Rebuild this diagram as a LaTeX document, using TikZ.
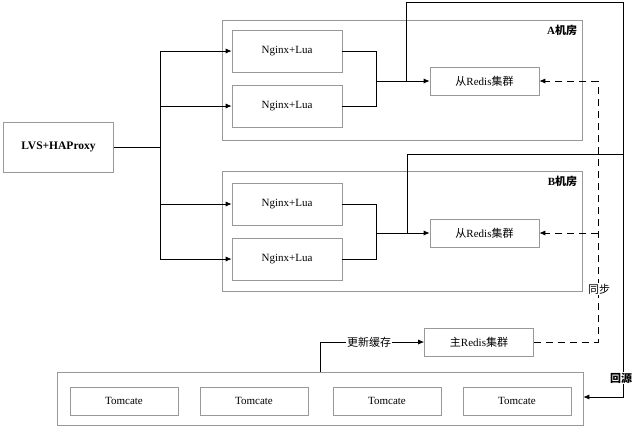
\documentclass[tikz,border=0pt]{standalone}
\usepackage{fontspec}
\setmainfont{Liberation Serif}
\newfontfamily\cjk{Noto Sans CJK SC}
\usetikzlibrary{arrows.meta}
\begin{document}
\begin{tikzpicture}[x=1pt,y=-1pt,font=\fontsize{11}{12}\selectfont,
  bx/.style={draw=gray!80,line width=0.6pt,minimum height=#1,inner sep=0pt},
  nb/.style={bx=42,minimum width=110},
  rb/.style={bx=28,minimum width=109},
  tb/.style={bx=28,minimum width=108},
  ln/.style={line width=0.8pt},
  ar/.style={ln,-{Latex[length=6pt,width=5pt]}},
  da/.style={ln,dashed,dash pattern=on 7pt off 5pt}]
\useasboundingbox (0,0) rectangle (640,432);
\node[bx=120,minimum width=360] (ca) at (402,80) {};
\node[bx=120,minimum width=360] (cb) at (402,231) {};
\node[bx=53,minimum width=526] (ct) at (320,398.5) {};
\node[anchor=north east,inner sep=5pt,font=\bfseries\fontsize{11}{12}\selectfont] (la) at (ca.north east) {A\cjk 机房};
\node[anchor=north east,inner sep=5pt,font=\bfseries\fontsize{11}{12}\selectfont] (lb) at (cb.north east) {B\cjk 机房};
\node[bx=50,minimum width=110,font=\bfseries\fontsize{11.5}{12}\selectfont] (lvs) at (58.5,147) {LVS+HAProxy};
\node[nb] (a1) at (287,51) {Nginx+Lua};
\node[nb] (a2) at (287,106) {Nginx+Lua};
\node[nb] (b1) at (287,204) {Nginx+Lua};
\node[nb] (b2) at (287,259) {Nginx+Lua};
\node[rb] (sa) at (484.5,81) {{\cjk 从}Redis{\cjk 集群}};
\node[rb] (sb) at (484.5,233) {{\cjk 从}Redis{\cjk 集群}};
\node[rb] (mr) at (479,342) {{\cjk 主}Redis{\cjk 集群}};
\node[tb] (t1) at (124,401) {Tomcate};
\node[tb] (t2) at (254,401) {Tomcate};
\node[tb] (t3) at (387,401) {Tomcate};
\node[tb] (t4) at (517,401) {Tomcate};
\coordinate (j) at (160,147);
\draw[ln] (lvs.east) -- (j);
\foreach \n in {a1,a2,b1,b2} \draw[ar] (j) |- (\n.west);
\coordinate (ja) at (376,81);
\coordinate (jb) at (376,233);
\draw[ln] (a1.east) -| (ja); \draw[ln] (a2.east) -| (ja);
\draw[ln] (b1.east) -| (jb); \draw[ln] (b2.east) -| (jb);
\draw[ar] (ja) -- (sa.west);
\draw[ar] (jb) -- (sb.west);
\coordinate (ra) at (406,81);
\coordinate (rb) at (407,233);
\draw[ar] (ra) -- (406,2) -- (623,2) -- (623,397) -- (ct.east|-0,397);
\draw[ln] (rb) -- (407,154) -- (623,154);
\coordinate (sy) at (598,342);
\draw[da] (mr.east) -- (sy) -- (598,81);
\draw[da,-{Latex[length=6pt,width=5pt]}] (598,81) -- (sa.east);
\draw[da,-{Latex[length=6pt,width=5pt]}] (598,233) -- (sb.east);
\node[fill=white,inner sep=1pt,font=\cjk\fontsize{11}{12}\selectfont] (tsy) at (599,289) {同步};
\node[fill=white,inner sep=1pt,font=\cjk\bfseries\fontsize{11}{12}\selectfont] (thy) at (621,378) {回源};
\draw[ar] (320,372) |- (mr.west);
\node[fill=white,inner sep=1pt,font=\cjk\fontsize{11}{12}\selectfont] (gx) at (369,342) {更新缓存};
\end{tikzpicture}
\end{document}
